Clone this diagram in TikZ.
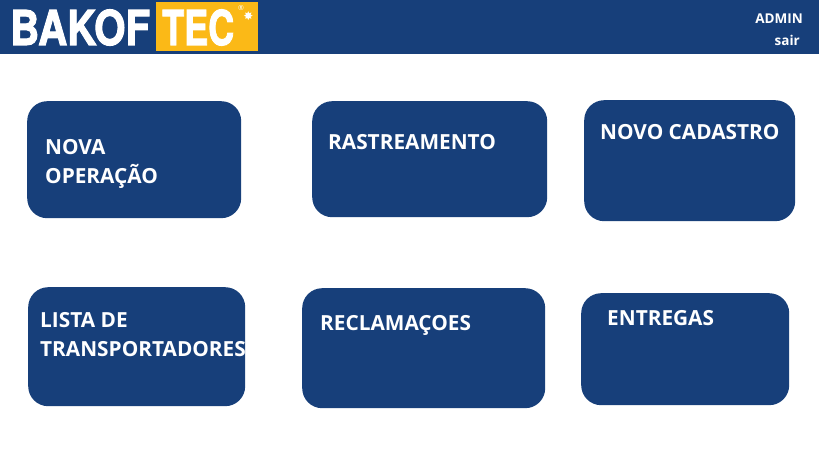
\documentclass[tikz,border=0pt]{standalone}
\usepackage{fontspec}
\setmainfont{Open Sans}
\newfontfamily\logofont[BoldFeatures={FakeBold=2.2}]{TeX Gyre Heros}
\newfontfamily\symbolfont{DejaVu Sans}
\usetikzlibrary{positioning}
\definecolor{bakofblue}{HTML}{173F7A}
\definecolor{bakofyellow}{HTML}{FBB917}
\tikzset{
  menubox/.style={draw=none,fill=bakofblue,rounded corners=20pt,inner sep=0pt},
  menutext/.style={text=white,font=\bfseries\fontsize{20.8}{25}\selectfont,align=left,inner sep=0pt,anchor=base west},
  headtext/.style={text=white,font=\bfseries\fontsize{13.5}{15}\selectfont,inner sep=0pt,anchor=base east},
  logotext/.style={text=white,font=\logofont\bfseries\fontsize{48}{48}\selectfont,inner sep=0pt,anchor=base west}
}
\begin{document}
\begin{tikzpicture}[x=1pt,y=-1pt]
    \useasboundingbox (0,0) rectangle (819,460);
    \node[fill=bakofblue,inner sep=0pt,minimum width=819pt,minimum height=54pt,anchor=north west] (header) at (0,0) {};
    \node[fill=bakofyellow,inner sep=0pt,minimum width=102pt,minimum height=49pt,anchor=north west] (logobox) at (156,2) {};
    \node[logotext] (bakof) at (10,45) {\scalebox{0.84}[1]{BAKOF}};
    \node[logotext] (tec) at (162,45) {\scalebox{0.75}[1]{TEC}};
    \node[text=white,inner sep=0pt,font=\fontsize{7}{7}\selectfont] (reg) at (241,8) {®};
    \node[text=white,inner sep=0pt,font=\symbolfont\fontsize{12}{12}\selectfont] (star) at (248.5,16) {✸};
    \node[headtext] (admin) at (803,24) {ADMIN};
    \node[headtext] (sair) at (800,46) {sair};

    \node[menubox,minimum width=214pt,minimum height=117pt,anchor=north west] (nova) at (27,101) {};
    \node[menubox,minimum width=235pt,minimum height=116pt,anchor=north west] (rastreamento) at (312,101) {};
    \node[menubox,minimum width=211pt,minimum height=121pt,anchor=north west] (cadastro) at (584,100) {};
    \node[menubox,minimum width=217pt,minimum height=119pt,anchor=north west] (lista) at (28,287) {};
    \node[menubox,minimum width=243pt,minimum height=120pt,anchor=north west] (reclamacoes) at (302,288) {};
    \node[menubox,minimum width=208pt,minimum height=112pt,anchor=north west] (entregas) at (581,293) {};

    \node[menutext] (novatxt) at (45,154) {NOVA};
    \node[menutext] (operacaotxt) at (45,183) {OPERAÇÃO};
    \node[menutext] (rastreamentotxt) at (328,149) {RASTREAMENTO};
    \node[menutext] (cadastrotxt) at (600,139) {NOVO CADASTRO};
    \node[menutext] (listatxt) at (40,327) {LISTA DE};
    \node[menutext] (transptxt) at (40,356) {TRANSPORTADORES};
    \node[menutext] (reclamtxt) at (320,330) {RECLAMAÇOES};
    \node[menutext] (entregastxt) at (607,325) {ENTREGAS};
  \end{tikzpicture}
\end{document}
